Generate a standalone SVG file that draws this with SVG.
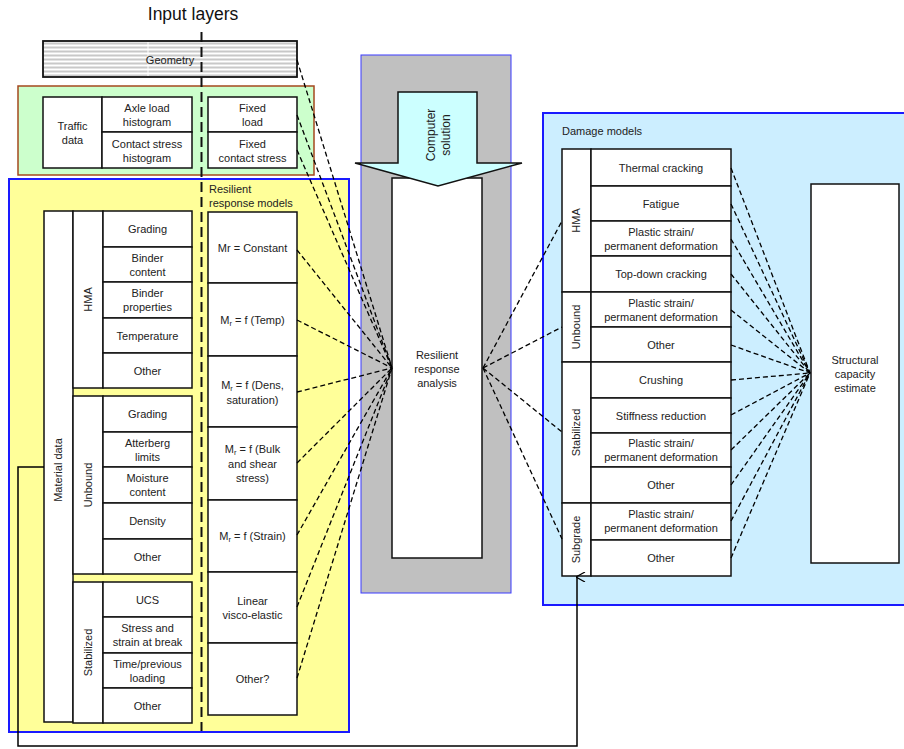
<svg xmlns="http://www.w3.org/2000/svg" width="904" height="749" viewBox="0 0 904 749">
  <defs>
    <pattern id="stripes" x="0" y="41" width="8" height="4" patternUnits="userSpaceOnUse">
      <rect width="8" height="4" fill="#ffffff"/>
      <rect y="1.5" width="8" height="2" fill="#c8c8c8"/>
    </pattern>
    <marker id="arrowUp" viewBox="0 0 10 10" refX="5" refY="1" markerWidth="10" markerHeight="10" markerUnits="userSpaceOnUse" orient="auto-start-reverse">
      <path d="M0,9 L5,0 L10,9" fill="none" stroke="#000" stroke-width="1.2"/>
    </marker>
    <style>
      .box { fill: #ffffff; stroke: #111; stroke-width: 1.5; }
      .t { font-family: "Liberation Sans", Arial, sans-serif; font-size: 11px; fill: #222; text-anchor: middle; }
      .tl { font-family: "Liberation Sans", Arial, sans-serif; font-size: 11px; fill: #222; }
      .big { font-size: 12px; }
      .sub { font-size: 7.5px; }
      .dash { fill: none; stroke: #000; stroke-width: 1.3; stroke-dasharray: 5 3; }
      .panel { stroke: #1a1aff; stroke-width: 2; }
    </style>
  </defs>

  <!-- background panels -->
  <g id="panel-traffic">
    <rect x="18" y="86" width="296" height="89" fill="#ccffcc" stroke="#a4481e" stroke-width="1.5"/>
  </g>
  <g id="panel-materials">
    <rect x="9" y="179" width="340" height="553" fill="#ffff99" class="panel"/>
    <text class="tl" x="209" y="193">Resilient</text>
    <text class="tl" x="209" y="207">response models</text>
  </g>
  <g id="panel-solver">
    <rect x="361" y="55" width="150" height="538" fill="#c0c0c0" stroke="#3a3aff" stroke-width="1"/>
  </g>
  <g id="panel-damage">
    <rect x="543" y="113" width="370" height="492" fill="#cceeff" class="panel"/>
    <text class="tl" x="562" y="135">Damage models</text>
  </g>

  <!-- input layers title -->
  <g id="input-layers">
    <text x="193" y="19.5" font-family="'Liberation Sans', Arial, sans-serif" font-size="17.5" fill="#111" text-anchor="middle">Input layers</text>
  </g>

  <!-- geometry -->
  <g id="geometry">
    <rect x="43" y="41" width="254" height="36" fill="url(#stripes)" stroke="#111" stroke-width="1.8"/>
    <line x1="148" y1="42" x2="148" y2="76" stroke="#fff" stroke-width="1"/>
    <text class="t" x="170" y="64">Geometry</text>
  </g>

  <!-- traffic data -->
  <g id="traffic-data">
    <rect class="box" x="43" y="97" width="59" height="71"/>
    <text class="t" x="72.5" y="130">Traffic</text>
    <text class="t" x="72.5" y="144">data</text>
  </g>
  <g id="axle-load-histogram">
    <rect class="box" x="102" y="97" width="90" height="35"/>
    <text class="t" x="147" y="112">Axle load</text>
    <text class="t" x="147" y="126">histogram</text>
  </g>
  <g id="contact-stress-histogram">
    <rect class="box" x="102" y="132" width="90" height="36"/>
    <text class="t" x="147" y="148">Contact stress</text>
    <text class="t" x="147" y="162">histogram</text>
  </g>
  <g id="fixed-load">
    <rect class="box" x="208" y="97" width="89" height="35"/>
    <text class="t" x="252.5" y="112">Fixed</text>
    <text class="t" x="252.5" y="126">load</text>
  </g>
  <g id="fixed-contact-stress">
    <rect class="box" x="208" y="132" width="89" height="36"/>
    <text class="t" x="252.5" y="148">Fixed</text>
    <text class="t" x="252.5" y="162">contact stress</text>
  </g>

  <!-- material data -->
  <g id="material-data">
    <rect class="box" x="44" y="211" width="29" height="511"/>
    <text class="t" transform="translate(62,470) rotate(-90)">Material data</text>
  </g>
  <g id="hma">
    <rect class="box" x="73" y="211" width="30" height="177"/>
    <text class="t" transform="translate(92,299.5) rotate(-90)">HMA</text>
    <rect class="box" x="103" y="211" width="89" height="36"/>
    <text class="t" x="147.5" y="233">Grading</text>
    <rect class="box" x="103" y="247" width="89" height="35"/>
    <text class="t" x="147.5" y="262">Binder</text>
    <text class="t" x="147.5" y="276">content</text>
    <rect class="box" x="103" y="282" width="89" height="36"/>
    <text class="t" x="147.5" y="297">Binder</text>
    <text class="t" x="147.5" y="311">properties</text>
    <rect class="box" x="103" y="318" width="89" height="35"/>
    <text class="t" x="147.5" y="339.5">Temperature</text>
    <rect class="box" x="103" y="353" width="89" height="35"/>
    <text class="t" x="147.5" y="374.5">Other</text>
  </g>
  <g id="unbound">
    <rect class="box" x="73" y="396" width="30" height="178"/>
    <text class="t" transform="translate(92,485) rotate(-90)">Unbound</text>
    <rect class="box" x="103" y="396" width="89" height="36"/>
    <text class="t" x="147.5" y="418">Grading</text>
    <rect class="box" x="103" y="432" width="89" height="35"/>
    <text class="t" x="147.5" y="446.5">Atterberg</text>
    <text class="t" x="147.5" y="460.5">limits</text>
    <rect class="box" x="103" y="467" width="89" height="36"/>
    <text class="t" x="147.5" y="482">Moisture</text>
    <text class="t" x="147.5" y="496">content</text>
    <rect class="box" x="103" y="503" width="89" height="36"/>
    <text class="t" x="147.5" y="525">Density</text>
    <rect class="box" x="103" y="539" width="89" height="35"/>
    <text class="t" x="147.5" y="560.5">Other</text>
  </g>
  <g id="stabilized">
    <rect class="box" x="73" y="582" width="30" height="141"/>
    <text class="t" transform="translate(92,652.5) rotate(-90)">Stabilized</text>
    <rect class="box" x="103" y="582" width="89" height="35"/>
    <text class="t" x="147.5" y="603.5">UCS</text>
    <rect class="box" x="103" y="617" width="89" height="36"/>
    <text class="t" x="147.5" y="632">Stress and</text>
    <text class="t" x="147.5" y="646">strain at break</text>
    <rect class="box" x="103" y="653" width="89" height="35"/>
    <text class="t" x="147.5" y="667.5">Time/previous</text>
    <text class="t" x="147.5" y="681.5">loading</text>
    <rect class="box" x="103" y="688" width="89" height="35"/>
    <text class="t" x="147.5" y="709.5">Other</text>
  </g>

  <!-- resilient response models -->
  <g id="rr-constant">
    <rect class="box" x="208" y="212" width="89" height="71"/>
    <text class="t" x="252.5" y="252">Mr = Constant</text>
  </g>
  <g id="rr-temp">
    <rect class="box" x="208" y="283" width="89" height="73"/>
    <text class="t" x="252.5" y="324">M<tspan class="sub" dy="2">r</tspan><tspan dy="-2"> = f (Temp)</tspan></text>
  </g>
  <g id="rr-dens">
    <rect class="box" x="208" y="356" width="89" height="71"/>
    <text class="t" x="252.5" y="389">M<tspan class="sub" dy="2">r</tspan><tspan dy="-2"> = f (Dens,</tspan></text>
    <text class="t" x="252.5" y="404">saturation)</text>
  </g>
  <g id="rr-bulk">
    <rect class="box" x="208" y="427" width="89" height="73"/>
    <text class="t" x="252.5" y="453">M<tspan class="sub" dy="2">r</tspan><tspan dy="-2"> = f (Bulk</tspan></text>
    <text class="t" x="252.5" y="468">and shear</text>
    <text class="t" x="252.5" y="482">stress)</text>
  </g>
  <g id="rr-strain">
    <rect class="box" x="208" y="500" width="89" height="72"/>
    <text class="t" x="252.5" y="540">M<tspan class="sub" dy="2">r</tspan><tspan dy="-2"> = f (Strain)</tspan></text>
  </g>
  <g id="rr-linear">
    <rect class="box" x="208" y="572" width="89" height="71"/>
    <text class="t" x="252.5" y="605">Linear</text>
    <text class="t" x="252.5" y="619">visco-elastic</text>
  </g>
  <g id="rr-other">
    <rect class="box" x="208" y="643" width="89" height="72"/>
    <text class="t" x="252.5" y="683">Other?</text>
  </g>

  <!-- divider between input data and models -->
  <line x1="201.5" y1="32" x2="201.5" y2="731" stroke="#111" stroke-width="2" stroke-dasharray="10 5"/>

  <!-- solver -->
  <g id="resilient-response-analysis">
    <rect class="box" x="392" y="178" width="90" height="380"/>
    <text class="t" x="437" y="359">Resilient</text>
    <text class="t" x="437" y="373">response</text>
    <text class="t" x="437" y="387">analysis</text>
  </g>
  <g id="computer-solution">
    <polygon points="398,92 477,92 477,163 522,163 438,186 355,163 398,163" fill="#ccffff" stroke="#111" stroke-width="1.5" stroke-linejoin="miter"/>
    <text class="t big" transform="translate(438,135) rotate(-90)" y="-3">Computer</text>
    <text class="t big" transform="translate(438,135) rotate(-90)" y="12">solution</text>
  </g>

  <!-- damage models -->
  <g id="dm-hma">
    <rect class="box" x="562" y="149" width="29" height="143"/>
    <text class="t" transform="translate(580,220.5) rotate(-90)">HMA</text>
    <rect class="box" x="591" y="149" width="140" height="37"/>
    <text class="t" x="661" y="171.5">Thermal cracking</text>
    <rect class="box" x="591" y="186" width="140" height="35"/>
    <text class="t" x="661" y="207.5">Fatigue</text>
    <rect class="box" x="591" y="221" width="140" height="35"/>
    <text class="t" x="661" y="235.5">Plastic strain/</text>
    <text class="t" x="661" y="249.5">permanent deformation</text>
    <rect class="box" x="591" y="256" width="140" height="36"/>
    <text class="t" x="661" y="278">Top-down cracking</text>
  </g>
  <g id="dm-unbound">
    <rect class="box" x="562" y="292" width="29" height="70"/>
    <text class="t" transform="translate(580,327) rotate(-90)">Unbound</text>
    <rect class="box" x="591" y="292" width="140" height="35"/>
    <text class="t" x="661" y="306.5">Plastic strain/</text>
    <text class="t" x="661" y="320.5">permanent deformation</text>
    <rect class="box" x="591" y="327" width="140" height="35"/>
    <text class="t" x="661" y="348.5">Other</text>
  </g>
  <g id="dm-stabilized">
    <rect class="box" x="562" y="362" width="29" height="141"/>
    <text class="t" transform="translate(580,432.5) rotate(-90)">Stabilized</text>
    <rect class="box" x="591" y="362" width="140" height="36"/>
    <text class="t" x="661" y="384">Crushing</text>
    <rect class="box" x="591" y="398" width="140" height="35"/>
    <text class="t" x="661" y="419.5">Stiffness reduction</text>
    <rect class="box" x="591" y="433" width="140" height="34"/>
    <text class="t" x="661" y="447">Plastic strain/</text>
    <text class="t" x="661" y="461">permanent deformation</text>
    <rect class="box" x="591" y="467" width="140" height="36"/>
    <text class="t" x="661" y="489">Other</text>
  </g>
  <g id="dm-subgrade">
    <rect class="box" x="562" y="503" width="29" height="73"/>
    <text class="t" transform="translate(580,539.5) rotate(-90)">Subgrade</text>
    <rect class="box" x="591" y="503" width="140" height="37"/>
    <text class="t" x="661" y="518">Plastic strain/</text>
    <text class="t" x="661" y="532">permanent deformation</text>
    <rect class="box" x="591" y="540" width="140" height="36"/>
    <text class="t" x="661" y="562">Other</text>
  </g>

  <g id="structural-capacity">
    <rect class="box" x="811" y="184" width="88" height="379"/>
    <text class="t" x="855" y="364">Structural</text>
    <text class="t" x="855" y="378">capacity</text>
    <text class="t" x="855" y="392">estimate</text>
  </g>

  <!-- connectors -->
  <g id="connectors">
    <!-- inputs to resilient response analysis -->
    <path class="dash" d="M297,60 L392,368"/>
    <path class="dash" d="M297,115 L392,368"/>
    <path class="dash" d="M297,150 L392,368"/>
    <path class="dash" d="M297,250 L392,368"/>
    <path class="dash" d="M297,320 L392,368"/>
    <path class="dash" d="M297,392 L392,368"/>
    <path class="dash" d="M297,463 L392,368"/>
    <path class="dash" d="M297,535 L392,368"/>
    <path class="dash" d="M297,607 L392,368"/>
    <path class="dash" d="M297,678 L392,368"/>
    <!-- analysis to damage model groups -->
    <path class="dash" d="M483,368 L562,221"/>
    <path class="dash" d="M483,368 L562,327"/>
    <path class="dash" d="M483,368 L562,432"/>
    <path class="dash" d="M483,368 L562,539"/>
    <!-- damage models to structural capacity -->
    <path class="dash" d="M731,168 L810,373"/>
    <path class="dash" d="M731,204 L810,373"/>
    <path class="dash" d="M731,239 L810,373"/>
    <path class="dash" d="M731,274 L810,373"/>
    <path class="dash" d="M731,310 L810,373"/>
    <path class="dash" d="M731,345 L810,373"/>
    <path class="dash" d="M731,380 L810,373"/>
    <path class="dash" d="M731,415 L810,373"/>
    <path class="dash" d="M731,450 L810,373"/>
    <path class="dash" d="M731,485 L810,373"/>
    <path class="dash" d="M731,521 L810,373"/>
    <path class="dash" d="M731,558 L810,373"/>
    <!-- material data feedback to subgrade -->
    <path d="M44,467 H18 V746 H577 V577" fill="none" stroke="#000" stroke-width="1.5" marker-end="url(#arrowUp)"/>
  </g>
</svg>
